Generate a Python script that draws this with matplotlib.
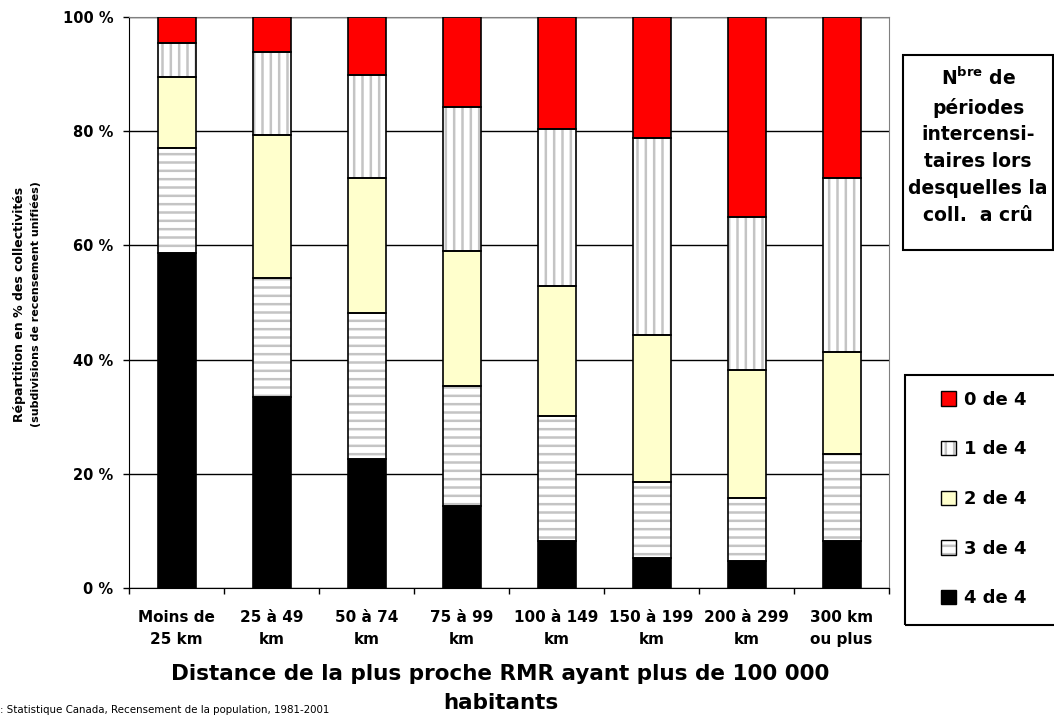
import numpy as np
import matplotlib.pyplot as plt
from matplotlib.patches import Patch, Rectangle
from matplotlib.legend_handler import HandlerTuple

# ------------------------------------------------------------------
# DONNÉES : répartition (%) des collectivités par classe de distance
# ------------------------------------------------------------------
categories = ["Moins de\n25 km", "25 à 49\nkm", "50 à 74\nkm", "75 à 99\nkm",
              "100 à 149\nkm", "150 à 199\nkm", "200 à 299\nkm", "300 km\nou plus"]

quatre_de_4 = [58.7, 33.5, 22.6, 14.4, 8.3, 5.2, 4.8, 8.3]
trois_de_4  = [18.4, 20.8, 25.6, 21.0, 21.8, 13.4, 11.0, 15.2]
deux_de_4   = [12.4, 25.0, 23.6, 23.6, 22.8, 25.7, 22.4, 17.8]
un_de_4     = [5.9, 14.6, 18.0, 25.2, 27.5, 34.5, 26.8, 30.5]
zero_de_4   = [4.6, 6.1, 10.2, 15.8, 19.6, 21.2, 35.0, 28.2]

series_labels = ["4 de 4", "3 de 4", "2 de 4", "1 de 4", "0 de 4"]
y_ticks = [0, 20, 40, 60, 80, 100]

# ------------------------------------------------------------------
# STYLE
# ------------------------------------------------------------------
plt.rcParams["font.weight"] = "bold"
plt.rcParams["hatch.color"] = "#c4c4c4"
plt.rcParams["hatch.linewidth"] = 1.8

W, H = 1054, 716
fig = plt.figure(figsize=(W / 100, H / 100), dpi=100)
ax = fig.add_axes([129 / W, 1 - 588 / H, 760 / W, 571 / H])

series = [quatre_de_4, trois_de_4, deux_de_4, un_de_4, zero_de_4]
styles = [("black", ""), ("white", "--"), ("#ffffcc", ""), ("white", "||"), ("#ff0000", "")]

x = np.arange(len(categories))
bottom = np.zeros(len(categories))
handles = []
for vals, (fc, hatch) in zip(series, styles):
    # remplissage (hachures grises) puis contour noir par-dessus
    ax.bar(x, vals, 0.4, bottom=bottom, color=fc, hatch=hatch, linewidth=0, zorder=2)
    ax.bar(x, vals, 0.4, bottom=bottom, fill=False, edgecolor="black",
           linewidth=1.2, zorder=3)
    bottom += np.array(vals)
    handles.append((Patch(facecolor=fc, hatch=hatch, linewidth=0),
                    Patch(fill=False, edgecolor="black", linewidth=1)))

ax.set_xlim(-0.5, len(categories) - 0.5)
ax.set_ylim(0, 100)
ax.set_yticks(y_ticks, [f"{v} %" for v in y_ticks])
ax.set_xticks(x, categories, linespacing=1.65)
ax.set_xticks(np.arange(-0.5, len(categories)), minor=True)
ax.tick_params(axis="x", which="major", length=0, pad=15.5, labelsize=11)
ax.tick_params(axis="x", which="minor", length=4.3, width=1)
ax.tick_params(axis="y", length=4.3, width=1, pad=7, labelsize=10.5)

ax.yaxis.grid(True, color="black", linewidth=1)
ax.set_axisbelow(True)
for side in ("top", "right"):
    ax.spines[side].set_color("#808080")
for side in ("left", "bottom"):
    ax.spines[side].set_color("black")

# titre de l'axe X sur deux lignes
ax.set_xlabel("Distance de la plus proche RMR ayant plus de 100 000",
              fontsize=15.5, fontweight="bold")
ax.xaxis.set_label_coords(0.489, -0.133)
ax.text(0.489, -0.2014, "habitants", transform=ax.transAxes,
        ha="center", va="center", fontsize=15.5, fontweight="bold")

fig.text(20 / W, 1 - 304 / H, "Répartition en % des collectivités",
         rotation=90, ha="center", va="center", fontsize=9)
fig.text(36 / W, 1 - 304 / H, "(subdivisions de recensement unifiées)",
         rotation=90, ha="center", va="center", fontsize=8)

# ------------------------------------------------------------------
# ENCADRÉS À DROITE : titre de la légende + légende
# ------------------------------------------------------------------
fig.add_artist(Rectangle((903 / W, 1 - 250 / H), 150 / W, 195 / H, fill=False,
                         edgecolor="black", linewidth=1.5, transform=fig.transFigure))
fig.text(978 / W, 1 - 146 / H,
         "N$^{\\mathbf{bre}}$ de\npériodes\nintercensi-\ntaires lors\ndesquelles la\ncoll.  a crû",
         ha="center", va="center", multialignment="center", fontsize=13.5, linespacing=1.52)

fig.add_artist(Rectangle((905 / W, 1 - 625 / H), 160 / W, 250 / H, fill=False,
                         edgecolor="black", linewidth=1.5, transform=fig.transFigure))
fig.legend(handles[::-1], series_labels[::-1],
           handler_map={tuple: HandlerTuple(ndivide=1, pad=0)},
           loc="center left", bbox_to_anchor=(941 / W, 1 - 499 / H), frameon=False,
           fontsize=13, handlelength=0.85, handleheight=0.85, handletextpad=0.4,
           labelspacing=1.75, borderpad=0, borderaxespad=0)

fig.text(0, 1 - 710 / H, ": Statistique Canada, Recensement de la population, 1981-2001",
         fontsize=7.4, fontweight="normal", va="center")

fig.savefig("out.png", dpi=100)
